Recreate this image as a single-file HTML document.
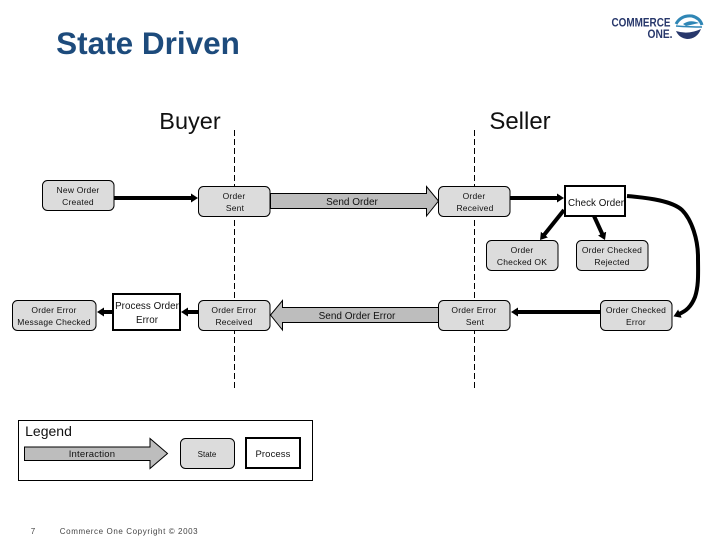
<!DOCTYPE html>
<html>
<head>
<meta charset="utf-8">
<style>
html,body{margin:0;padding:0;background:#fff;}
svg{display:block;}
text{font-family:"Liberation Sans",sans-serif;fill:#111;text-anchor:middle;}
.s{font-size:8.5px;letter-spacing:.2px;}
.p{font-size:9.8px;letter-spacing:.05px;}
.state{fill:#dcdcdc;stroke:#000;stroke-width:1;}
.proc{fill:#fff;stroke:#000;stroke-width:2;}
.big{fill:#bdbdbd;stroke:#000;stroke-width:1;}
.conn{fill:none;stroke:#000;stroke-width:4;}
.dash{stroke:#000;stroke-width:1;stroke-dasharray:6 3;}
</style>
</head>
<body>
<svg width="720" height="540" viewBox="0 0 720 540" xmlns="http://www.w3.org/2000/svg">
<defs>
<marker id="a" markerUnits="userSpaceOnUse" markerWidth="8" markerHeight="10" refX="1" refY="4.500" orient="auto"><path d="M0 0L7 4.500L0 9z" fill="#000"/></marker>
</defs>

<text x="148" y="54" style="font-size:31.500px;font-weight:bold;fill:#1d4b7c;">State Driven</text>
<text x="190" y="129" style="font-size:23.500px;">Buyer</text>
<text x="520" y="129" style="font-size:24px;">Seller</text>

<!-- logo -->
<text x="641" y="26.500" textLength="59" lengthAdjust="spacingAndGlyphs" style="font-size:11.500px;font-weight:bold;fill:#27376b;">COMMERCE</text>
<text x="660" y="38" textLength="25" lengthAdjust="spacingAndGlyphs" style="font-size:11.500px;font-weight:bold;fill:#27376b;">ONE.</text>
<path d="M676 24Q681 15 692 16Q700 18 702 25" fill="none" stroke="#2f86b5" stroke-width="3"/>
<path d="M683 24Q690 19 699 23L686 26z" fill="#2f86b5"/>
<path d="M676 31Q688 35 701 29Q697 39 687 39Q679 38 676 31z" fill="#27376b"/>
<path d="M676 26Q690 27 702 27" fill="none" stroke="#2f86b5" stroke-width="1.500"/>

<line class="dash" x1="234.500" y1="130" x2="234.500" y2="388"/>
<line class="dash" x1="474.500" y1="130" x2="474.500" y2="388"/>

<!-- big arrows -->
<path class="big" d="M270.500 193.500H426.500V186.500L438.500 201L426.500 216V208.500H270.500z"/>
<path class="big" d="M438.500 307.500H282.500V300.500L270.500 315L282.500 330V322.500H438.500z"/>
<text x="352" y="205" style="font-size:10px">Send Order</text>
<text x="357" y="319" style="font-size:10px">Send Order Error</text>

<!-- connectors -->
<line class="conn" x1="114" y1="198" x2="192" y2="198" marker-end="url(#a)"/>
<line class="conn" x1="510" y1="198" x2="558" y2="198" marker-end="url(#a)"/>
<line class="conn" x1="198" y1="312" x2="187" y2="312" marker-end="url(#a)"/>
<line class="conn" x1="113" y1="312" x2="103" y2="312" marker-end="url(#a)"/>
<line class="conn" x1="600" y1="312" x2="517" y2="312" marker-end="url(#a)"/>
<line class="conn" x1="564" y1="210" x2="543.800" y2="235.300" marker-end="url(#a)"/>
<line class="conn" x1="594" y1="216" x2="602.500" y2="234.500" marker-end="url(#a)"/>
<path class="conn" d="M627 196C650 198 672 201 682 210C692 220 698 240 698 257C698 272 699 285 695 297C691 307 686 311 679 314" marker-end="url(#a)"/>

<!-- states -->
<rect class="state" x="42.500" y="180.500" width="71.500" height="30" rx="5"/>
<rect class="state" x="198.500" y="186.500" width="71.500" height="30" rx="5"/>
<rect class="state" x="438.500" y="186.500" width="71.500" height="30" rx="5"/>
<rect class="state" x="486.500" y="240.500" width="71.500" height="30" rx="5"/>
<rect class="state" x="576.500" y="240.500" width="71.500" height="30" rx="5"/>
<rect class="state" x="12.500" y="300.500" width="83.500" height="30" rx="5"/>
<rect class="state" x="198.500" y="300.500" width="71.500" height="30" rx="5"/>
<rect class="state" x="438.500" y="300.500" width="71.500" height="30" rx="5"/>
<rect class="state" x="600.500" y="300.500" width="71.500" height="30" rx="5"/>

<text class="s" x="78" y="193">New Order</text><text class="s" x="78" y="205">Created</text>
<text class="s" x="234" y="199">Order</text><text class="s" x="235" y="211">Sent</text>
<text class="s" x="474" y="199">Order</text><text class="s" x="475" y="211">Received</text>
<text class="s" x="522" y="253">Order</text><text class="s" x="522" y="265">Checked OK</text>
<text class="s" x="612" y="253">Order Checked</text><text class="s" x="612" y="265">Rejected</text>
<text class="s" x="54" y="313">Order Error</text><text class="s" x="54" y="325">Message Checked</text>
<text class="s" x="234" y="313">Order Error</text><text class="s" x="234" y="325">Received</text>
<text class="s" x="474" y="313">Order Error</text><text class="s" x="475" y="325">Sent</text>
<text class="s" x="636" y="313">Order Checked</text><text class="s" x="636" y="325">Error</text>

<!-- processes -->
<rect class="proc" x="565" y="186" width="60" height="30"/>
<text class="p" x="596" y="206">Check Order</text>
<rect class="proc" x="113" y="294" width="67" height="36"/>
<text class="p" x="147" y="309">Process Order</text>
<text class="p" x="147" y="323">Error</text>

<!-- legend -->
<rect x="18.500" y="420.500" width="294" height="60" fill="#fff" stroke="#000" stroke-width="1"/>
<text x="48.500" y="436" style="font-size:14px">Legend</text>
<path class="big" d="M24.500 447H150V438.500L167.500 453.500L150 468.500V460.500H24.500z"/>
<text x="92" y="457" style="font-size:9.500px;letter-spacing:.2px">Interaction</text>
<rect class="state" x="180.500" y="438.500" width="54" height="30" rx="5"/>
<text x="207" y="457" style="font-size:8px">State</text>
<rect class="proc" x="246" y="438" width="54" height="30"/>
<text x="273" y="457" style="font-size:9.500px;letter-spacing:.1px">Process</text>

<!-- footer -->
<text x="33" y="534" style="font-size:8px;fill:#444">7</text>
<text x="129" y="534" style="font-size:8px;fill:#444;letter-spacing:.6px">Commerce One Copyright © 2003</text>
</svg>
</body>
</html>
